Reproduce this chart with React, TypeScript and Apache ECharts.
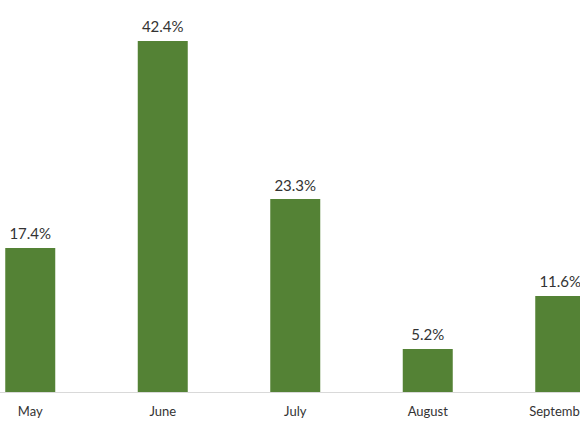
import React, { useEffect, useRef } from "react";
import * as echarts from "echarts";

const categories = ["May", "June", "July", "August", "September"];
const values = [17.4, 42.4, 23.3, 5.2, 11.6];

export default function App() {
  const ref = useRef<HTMLDivElement>(null);
  useEffect(() => {
    if (!ref.current) return;
    const chart = echarts.init(ref.current, undefined, { renderer: "svg" });
    chart.setOption({
      animation: false,
      grid: { left: 0, width: 662.5, top: 19.4, bottom: 43 },
      xAxis: {
        type: "category",
        data: categories,
        axisLine: { lineStyle: { color: "#d9d9d9", width: 1 } },
        axisTick: { show: false },
        axisLabel: { color: "#333", fontSize: 13, fontFamily: "Lato", margin: 12 },
      },
      yAxis: { type: "value", min: 0, max: 45, show: false, splitLine: { show: false } },
      series: [
        {
          type: "bar",
          data: values,
          barWidth: 50,
          itemStyle: { color: "#548235" },
          label: {
            show: true,
            position: "top",
            distance: 7,
            formatter: (p: any) => p.value.toFixed(1) + "%",
            color: "#333",
            fontSize: 15,
            fontFamily: "Lato",
          },
        },
      ],
    });
    return () => chart.dispose();
  }, []);
  return (
    <div style={{ position: "fixed", left: 0, top: 0, width: 580, height: 435, overflow: "hidden", background: "#fff" }}>
      <div ref={ref} style={{ position: "absolute", left: -36, top: 0, width: 700, height: 435 }} />
    </div>
  );
}
